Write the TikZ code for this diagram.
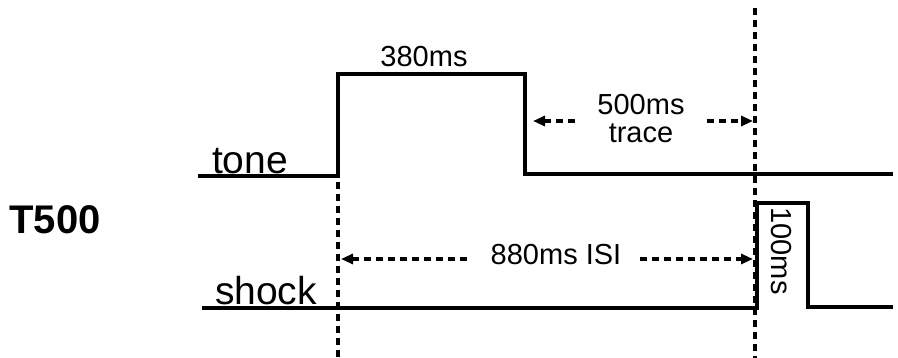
\documentclass[tikz,border=0pt]{standalone}
\usepackage{fontspec}
\setmainfont{Liberation Sans}
\usetikzlibrary{arrows.meta}
\begin{document}
\begin{tikzpicture}[x=1pt,y=-1pt,
  sig/.style={line width=3.2pt, line join=miter},
  vdash/.style={line width=3.2pt, dash pattern=on 7pt off 5pt},
  dimarrow/.style={line width=3.2pt, dash pattern=on 7pt off 5pt, -{Triangle[length=12pt,width=10pt]}},
  lbl/.style={font=\fontsize{29}{31}\selectfont, anchor=base, inner sep=0pt},
  big/.style={font=\fontsize{39}{41}\selectfont, anchor=base, inner sep=0pt},
  title/.style={font=\fontsize{40}{42}\selectfont\bfseries, anchor=base, inner sep=0pt}]
\useasboundingbox (0,0) rectangle (898,358);
% tone signal
\coordinate (t0) at (198,176);
\coordinate (t1) at (338,176);
\coordinate (t2) at (338,74);
\coordinate (t3) at (525,74);
\coordinate (t4) at (525,174);
\coordinate (t5) at (893,174);
\draw[sig] (t0) -- (t1) -- (t2) -- (t3) -- (t4) -- (t5);
% shock signal
\coordinate (s0) at (202,308);
\coordinate (s1) at (757,308);
\coordinate (s2) at (757,203);
\coordinate (s3) at (808,203);
\coordinate (s4) at (808,307);
\coordinate (s5) at (893,307);
\draw[sig] (s0) -- (s1) -- (s2) -- (s3) -- (s4) -- (s5);
% dashed verticals
\coordinate (v1a) at (338,182);
\coordinate (v1b) at (338,358);
\coordinate (v2a) at (755,8);
\coordinate (v2b) at (755,358);
\draw[vdash] (v1a) -- (v1b);
\draw[vdash] (v2a) -- (v2b);
% labels
\node[lbl] (l380) at (424,67) {380ms};
\node[lbl] (l500) at (641,115) {500ms};
\node[lbl] (ltrace) at (641,143) {trace};
\node[lbl] (lisi) at (556,265) {880ms ISI};
\node[big] (ltone) at (250,174) {tone};
\node[big] (lshock) at (266,305) {shock};
\node[title] (lt500) at (55,234) {T500};
\node[lbl, anchor=center, rotate=-90] (l100) at (781,251) {100ms};
% dimension arrows
\coordinate (r0) at (533,121);
\coordinate (r1) at (575,121);
\coordinate (r2) at (707,121);
\coordinate (r3) at (753,121);
\draw[dimarrow] (r1) -- (r0);
\draw[dimarrow] (r2) -- (r3);
\coordinate (i0) at (341,259);
\coordinate (i1) at (467,259);
\coordinate (i2) at (640,259);
\coordinate (i3) at (753,259);
\draw[dimarrow] (i1) -- (i0);
\draw[dimarrow] (i2) -- (i3);
\end{tikzpicture}
\end{document}
